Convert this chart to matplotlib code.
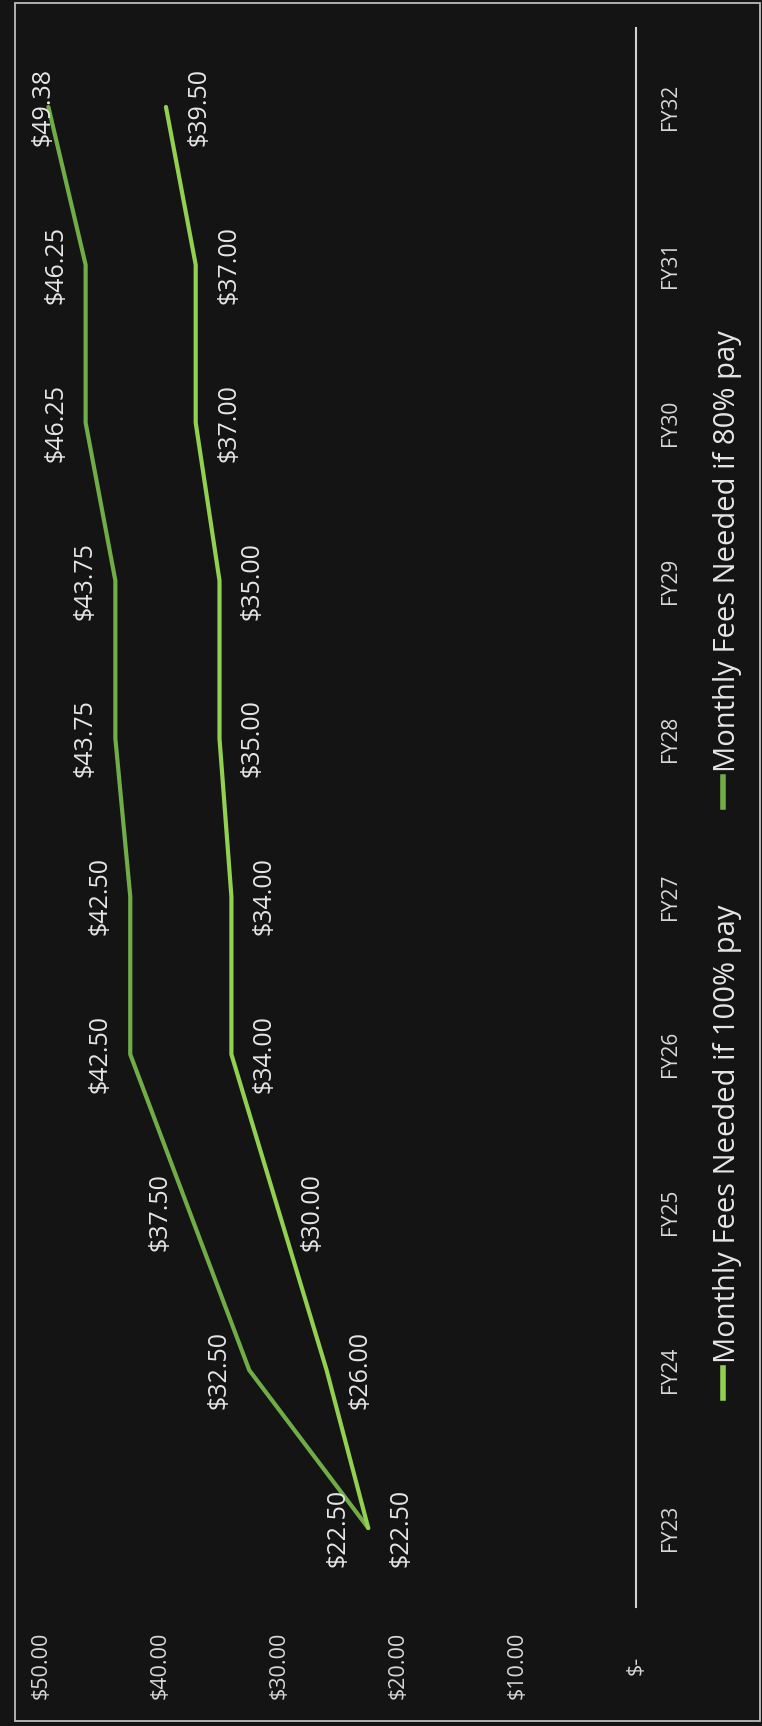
import matplotlib
matplotlib.use("Agg")
import matplotlib.pyplot as plt
from matplotlib.transforms import blended_transform_factory
from matplotlib.patches import Rectangle
from matplotlib.lines import Line2D

plt.rcParams['font.family'] = ['Open Sans', 'DejaVu Sans']

# Chart data
years = ['FY23', 'FY24', 'FY25', 'FY26', 'FY27', 'FY28', 'FY29', 'FY30', 'FY31', 'FY32']
fees_100 = [22.50, 26.00, 30.00, 34.00, 34.00, 35.00, 35.00, 37.00, 37.00, 39.50]
fees_80 = [22.50, 32.50, 37.50, 42.50, 42.50, 43.75, 43.75, 46.25, 46.25, 49.38]
value_ticks = [0, 10, 20, 30, 40, 50]
value_labels = ['$-', '$10.00', '$20.00', '$30.00', '$40.00', '$50.00']
legend_labels = ['Monthly Fees Needed if 100% pay', 'Monthly Fees Needed if 80% pay']

BG = '#141414'
TEXT = '#e6e6e6'
C100 = '#92D050'
C80 = '#70AD47'

W, H = 762, 1726


def fx(px):
    return px / W


def fy(py):
    return 1 - py / H


def esc(s):
    return s.replace('$', r'\$')


fig = plt.figure(figsize=(W / 100, H / 100), dpi=100, facecolor=BG)

# the chart is laid out turned on its side: values run right-to-left,
# fiscal years run bottom-to-top
ax = fig.add_axes([fx(41), fy(1607), fx(636) - fx(41), fy(28) - fy(1607)])
ax.set_facecolor('none')
ax.set_xlim(50, 0)
ax.set_ylim(-0.5, len(years) - 0.5)
ax.set_xticks([])
ax.set_yticks([])
for side in ['top', 'bottom', 'left']:
    ax.spines[side].set_visible(False)
ax.spines['right'].set_color('#d0d0d0')
ax.spines['right'].set_linewidth(1.5)

pos = list(range(len(years)))
ax.plot(fees_80, pos, color=C80, lw=3, solid_joinstyle='round', solid_capstyle='round')
ax.plot(fees_100, pos, color=C100, lw=3, solid_joinstyle='round', solid_capstyle='round')

# data labels: 80% series sits on the outer side, 100% series on the inner side
for i, v in enumerate(fees_80):
    xd, _ = ax.transData.transform((v, i))
    off = max(-30, 43 - xd)
    ax.annotate(esc(f'${v:.2f}'), (v, i), xytext=(off, 0), textcoords='offset pixels',
                rotation=90, ha='center', va='center', fontsize=18, color=TEXT)
for i, v in enumerate(fees_100):
    ax.annotate(esc(f'${v:.2f}'), (v, i), xytext=(33, 0), textcoords='offset pixels',
                rotation=90, ha='center', va='center', fontsize=18, color=TEXT)

# category labels beside the axis line
cat_trans = blended_transform_factory(fig.transFigure, ax.transData)
for i, name in enumerate(years):
    ax.text(fx(670), i, name, transform=cat_trans, rotation=90,
            ha='center', va='center', fontsize=15, color='#d9d9d9')

# value labels along the bottom
val_trans = blended_transform_factory(ax.transData, fig.transFigure)
for v, lab in zip(value_ticks, value_labels):
    ax.text(v, fy(1665), esc(lab), transform=val_trans, rotation=90,
            ha='center', va='center', fontsize=15.5, color='#d9d9d9')

# legend
for (mk_top, mk_bot, txt_start), col, lab in zip(
        [(1368, 1398, 1363), (777, 807, 772)], [C100, C80], legend_labels):
    fig.add_artist(Line2D([fx(723), fx(723)], [fy(mk_bot), fy(mk_top)],
                          color=col, lw=4, transform=fig.transFigure))
    fig.text(fx(727), fy(txt_start), lab, rotation=90, ha='center', va='bottom',
             fontsize=21, color=TEXT)

# chart border
fig.add_artist(Rectangle((fx(15), fy(1721)), fx(760) - fx(15), fy(3) - fy(1721),
                         transform=fig.transFigure, fill=False,
                         edgecolor='#bdbdbd', lw=1.3))

fig.savefig('out.png', dpi=100, facecolor=BG)
